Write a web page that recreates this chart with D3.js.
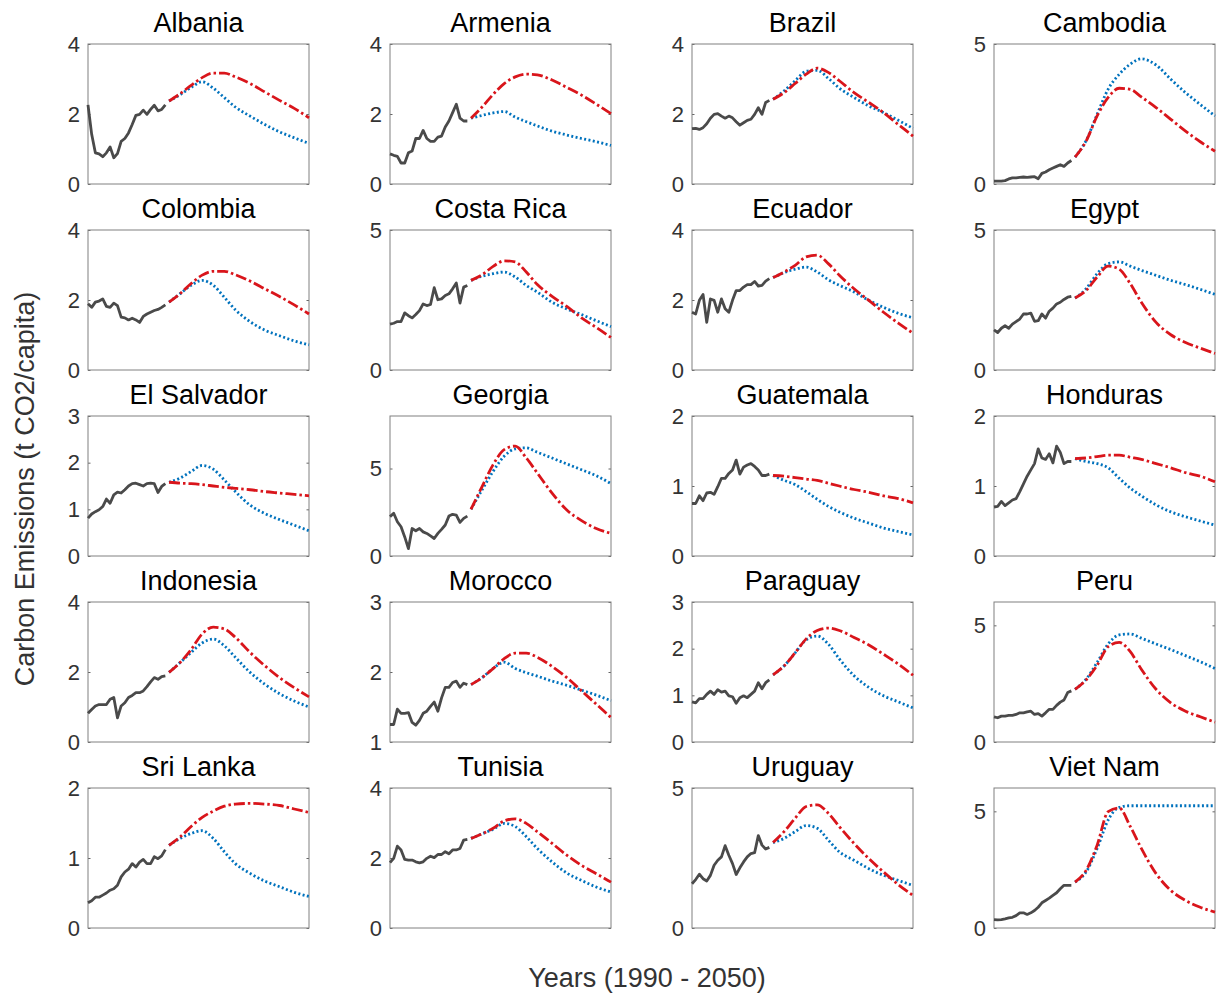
<!DOCTYPE html>
<html>
<head>
<meta charset="utf-8">
<script src="https://cdn.jsdelivr.net/npm/d3@7"></script>
<style>
  body { margin: 0; background: #fff; }
  text { font-family: "Liberation Sans", Arial, Helvetica, sans-serif; }
</style>
</head>
<body>
<div id="chart"></div>
<script>
// countries, one panel each (4 per row)
const countries = ['Albania', 'Armenia', 'Brazil', 'Cambodia', 'Colombia', 'Costa Rica', 'Ecuador', 'Egypt',
  'El Salvador', 'Georgia', 'Guatemala', 'Honduras', 'Indonesia', 'Morocco', 'Paraguay', 'Peru',
  'Sri Lanka', 'Tunisia', 'Uruguay', 'Viet Nam'];

// y axis range and ticks per panel
const yDomains = [[0, 4], [0, 4], [0, 4], [0, 5], [0, 4], [0, 5], [0, 4], [0, 5],
  [0, 3], [0, 8], [0, 2], [0, 2], [0, 4], [1, 3], [0, 3], [0, 6],
  [0, 2], [0, 4], [0, 5], [0, 6]];
const yTicks = [[0, 2, 4], [0, 2, 4], [0, 2, 4], [0, 5], [0, 2, 4], [0, 5], [0, 2, 4], [0, 5],
  [0, 1, 2, 3], [0, 5], [0, 1, 2], [0, 1, 2], [0, 2, 4], [1, 2, 3], [0, 1, 2, 3], [0, 5],
  [0, 1, 2], [0, 2, 4], [0, 5], [0, 5]];

// observed years
const histYears = [1990, 1991, 1992, 1993, 1994, 1995, 1996, 1997, 1998, 1999, 2000,
  2001, 2002, 2003, 2004, 2005, 2006, 2007, 2008, 2009, 2010, 2011];

// observed emissions (t CO2/capita), same order as countries
const historical = [
  [2.26, 1.42, 0.89, 0.86, 0.78, 0.89, 1.06, 0.75, 0.87, 1.22, 1.30, 1.46, 1.70, 1.96, 1.99, 2.11, 1.99, 2.13, 2.25, 2.09, 2.13, 2.26],
  [0.86, 0.82, 0.79, 0.60, 0.60, 0.89, 0.94, 1.30, 1.30, 1.53, 1.30, 1.22, 1.22, 1.34, 1.37, 1.63, 1.80, 2.04, 2.28, 1.88, 1.80, 1.80],
  [1.58, 1.59, 1.56, 1.61, 1.72, 1.88, 1.99, 2.01, 1.94, 1.88, 1.94, 1.89, 1.78, 1.68, 1.75, 1.82, 1.85, 1.99, 2.18, 1.99, 2.33, 2.39],
  [0.10, 0.10, 0.10, 0.12, 0.18, 0.22, 0.22, 0.24, 0.25, 0.24, 0.25, 0.26, 0.19, 0.38, 0.43, 0.51, 0.57, 0.63, 0.69, 0.63, 0.75, 0.84],
  [1.89, 1.79, 1.94, 1.97, 2.03, 1.82, 1.79, 1.91, 1.84, 1.51, 1.49, 1.43, 1.48, 1.43, 1.36, 1.53, 1.60, 1.65, 1.70, 1.73, 1.79, 1.86],
  [1.64, 1.67, 1.73, 1.73, 2.04, 1.94, 1.86, 1.98, 2.12, 2.36, 2.30, 2.34, 2.94, 2.51, 2.54, 2.66, 2.72, 2.90, 3.11, 2.39, 2.96, 3.02],
  [1.65, 1.60, 1.99, 2.16, 1.36, 2.03, 1.99, 1.65, 2.03, 1.75, 1.65, 1.99, 2.27, 2.27, 2.37, 2.44, 2.44, 2.53, 2.40, 2.42, 2.54, 2.61],
  [1.43, 1.34, 1.49, 1.58, 1.49, 1.64, 1.73, 1.82, 2.00, 2.00, 2.03, 1.74, 1.76, 2.00, 1.85, 2.10, 2.21, 2.36, 2.42, 2.52, 2.60, 2.63],
  [0.81, 0.90, 0.95, 0.99, 1.06, 1.22, 1.13, 1.31, 1.37, 1.35, 1.42, 1.50, 1.55, 1.56, 1.53, 1.50, 1.55, 1.56, 1.55, 1.36, 1.49, 1.55],
  [2.25, 2.44, 1.96, 1.67, 1.09, 0.42, 1.57, 1.44, 1.57, 1.38, 1.29, 1.15, 1.00, 1.29, 1.52, 1.77, 2.28, 2.38, 2.34, 1.92, 2.15, 2.28],
  [0.75, 0.75, 0.86, 0.79, 0.90, 0.91, 0.88, 0.99, 1.11, 1.11, 1.18, 1.23, 1.37, 1.17, 1.27, 1.30, 1.32, 1.28, 1.23, 1.15, 1.15, 1.17],
  [0.70, 0.71, 0.78, 0.72, 0.76, 0.80, 0.82, 0.92, 1.03, 1.14, 1.23, 1.32, 1.53, 1.40, 1.38, 1.46, 1.33, 1.57, 1.48, 1.32, 1.35, 1.35],
  [0.82, 0.93, 1.03, 1.07, 1.07, 1.07, 1.22, 1.27, 0.69, 1.03, 1.12, 1.27, 1.33, 1.41, 1.41, 1.46, 1.58, 1.72, 1.84, 1.79, 1.87, 1.89],
  [1.25, 1.25, 1.47, 1.41, 1.41, 1.42, 1.28, 1.24, 1.31, 1.41, 1.44, 1.51, 1.57, 1.44, 1.63, 1.78, 1.78, 1.85, 1.87, 1.78, 1.84, 1.82],
  [0.86, 0.84, 0.93, 0.93, 1.02, 1.09, 1.02, 1.12, 1.07, 1.09, 0.99, 0.97, 0.83, 0.95, 0.99, 0.95, 1.02, 1.09, 1.27, 1.14, 1.27, 1.33],
  [1.08, 1.04, 1.11, 1.11, 1.14, 1.14, 1.18, 1.25, 1.25, 1.29, 1.32, 1.18, 1.22, 1.11, 1.25, 1.40, 1.40, 1.57, 1.71, 1.80, 2.12, 2.19],
  [0.36, 0.39, 0.44, 0.44, 0.47, 0.50, 0.54, 0.56, 0.61, 0.73, 0.80, 0.84, 0.92, 0.87, 0.94, 0.98, 0.92, 0.92, 1.02, 0.99, 1.03, 1.12],
  [1.87, 1.99, 2.34, 2.23, 1.96, 1.94, 1.94, 1.89, 1.86, 1.89, 1.99, 2.05, 2.01, 2.10, 2.10, 2.18, 2.12, 2.23, 2.23, 2.27, 2.51, 2.53],
  [1.58, 1.73, 1.92, 1.76, 1.68, 1.88, 2.24, 2.42, 2.54, 2.94, 2.60, 2.30, 1.91, 2.15, 2.36, 2.54, 2.66, 2.69, 3.30, 2.96, 2.82, 2.88],
  [0.36, 0.35, 0.36, 0.39, 0.43, 0.46, 0.53, 0.65, 0.65, 0.58, 0.65, 0.75, 0.89, 1.08, 1.18, 1.28, 1.40, 1.51, 1.68, 1.83, 1.83, 1.83]
];

// projection years
const projYears = [2012, 2015, 2018, 2021, 2024, 2027, 2030, 2034, 2038, 2042, 2046, 2050];

// projection drawn dotted blue
const projDotted = [
  [2.37, 2.55, 2.76, 2.92, 2.74, 2.47, 2.20, 1.94, 1.70, 1.49, 1.32, 1.16],
  [1.88, 1.96, 2.03, 2.07, 1.91, 1.78, 1.66, 1.51, 1.40, 1.30, 1.21, 1.10],
  [2.42, 2.66, 2.95, 3.22, 3.25, 3.02, 2.74, 2.47, 2.23, 2.04, 1.82, 1.59],
  [0.96, 1.55, 2.49, 3.39, 3.92, 4.28, 4.47, 4.25, 3.74, 3.26, 2.84, 2.43],
  [1.94, 2.18, 2.42, 2.56, 2.42, 2.08, 1.72, 1.38, 1.14, 0.98, 0.83, 0.72],
  [3.20, 3.35, 3.44, 3.50, 3.32, 3.02, 2.78, 2.42, 2.18, 1.98, 1.76, 1.55],
  [2.64, 2.78, 2.88, 2.94, 2.80, 2.58, 2.42, 2.23, 1.99, 1.79, 1.62, 1.49],
  [2.57, 2.90, 3.44, 3.80, 3.86, 3.71, 3.56, 3.38, 3.20, 3.05, 2.88, 2.70],
  [1.58, 1.67, 1.81, 1.94, 1.86, 1.63, 1.38, 1.09, 0.91, 0.78, 0.66, 0.54],
  [2.67, 3.78, 4.84, 5.70, 6.12, 6.18, 5.93, 5.60, 5.26, 4.93, 4.59, 4.13],
  [1.15, 1.08, 1.02, 0.92, 0.81, 0.71, 0.63, 0.54, 0.47, 0.40, 0.35, 0.30],
  [1.39, 1.35, 1.32, 1.26, 1.11, 0.97, 0.86, 0.73, 0.63, 0.56, 0.50, 0.44],
  [1.99, 2.27, 2.56, 2.83, 2.94, 2.75, 2.42, 1.99, 1.65, 1.38, 1.17, 1.00],
  [1.82, 1.92, 2.05, 2.14, 2.05, 1.99, 1.94, 1.87, 1.81, 1.74, 1.67, 1.59],
  [1.44, 1.63, 1.91, 2.19, 2.27, 2.10, 1.78, 1.42, 1.17, 0.99, 0.86, 0.73],
  [2.26, 2.69, 3.41, 4.20, 4.59, 4.63, 4.45, 4.20, 3.96, 3.70, 3.44, 3.15],
  [1.18, 1.28, 1.35, 1.39, 1.28, 1.09, 0.92, 0.78, 0.67, 0.59, 0.51, 0.45],
  [2.56, 2.69, 2.82, 2.99, 2.90, 2.61, 2.27, 1.89, 1.57, 1.36, 1.17, 1.03],
  [3.05, 3.20, 3.44, 3.66, 3.56, 3.14, 2.72, 2.42, 2.12, 1.88, 1.70, 1.52],
  [1.97, 2.40, 3.41, 4.63, 5.17, 5.24, 5.24, 5.24, 5.24, 5.24, 5.24, 5.24]
];

// projection drawn dash-dot red
const projDashDot = [
  [2.37, 2.58, 2.82, 3.04, 3.17, 3.17, 3.06, 2.87, 2.63, 2.39, 2.16, 1.89],
  [1.88, 2.20, 2.56, 2.87, 3.06, 3.14, 3.12, 2.97, 2.76, 2.54, 2.28, 2.01],
  [2.42, 2.61, 2.87, 3.14, 3.31, 3.19, 2.95, 2.61, 2.33, 2.04, 1.70, 1.37],
  [0.96, 1.53, 2.43, 3.09, 3.42, 3.38, 3.11, 2.73, 2.31, 1.89, 1.51, 1.17],
  [1.94, 2.18, 2.47, 2.71, 2.82, 2.82, 2.72, 2.54, 2.32, 2.10, 1.86, 1.60],
  [3.20, 3.40, 3.70, 3.90, 3.86, 3.50, 3.05, 2.63, 2.27, 1.86, 1.52, 1.16],
  [2.64, 2.80, 2.99, 3.23, 3.28, 3.04, 2.71, 2.32, 1.99, 1.65, 1.34, 1.05],
  [2.57, 2.84, 3.32, 3.71, 3.60, 3.08, 2.42, 1.70, 1.26, 0.98, 0.78, 0.59],
  [1.58, 1.56, 1.55, 1.53, 1.50, 1.47, 1.45, 1.42, 1.38, 1.35, 1.32, 1.29],
  [2.67, 3.97, 5.22, 6.08, 6.28, 5.60, 4.74, 3.59, 2.63, 2.02, 1.57, 1.29],
  [1.15, 1.14, 1.12, 1.10, 1.08, 1.04, 1.00, 0.95, 0.91, 0.86, 0.82, 0.76],
  [1.39, 1.40, 1.42, 1.44, 1.44, 1.41, 1.38, 1.32, 1.26, 1.19, 1.14, 1.06],
  [1.99, 2.27, 2.64, 3.09, 3.28, 3.23, 2.99, 2.56, 2.18, 1.84, 1.55, 1.29],
  [1.82, 1.92, 2.05, 2.19, 2.27, 2.27, 2.21, 2.08, 1.92, 1.73, 1.54, 1.35],
  [1.44, 1.63, 1.91, 2.21, 2.39, 2.44, 2.39, 2.24, 2.08, 1.88, 1.67, 1.43],
  [2.26, 2.66, 3.29, 4.09, 4.27, 3.87, 3.12, 2.26, 1.68, 1.32, 1.08, 0.85],
  [1.18, 1.30, 1.45, 1.58, 1.67, 1.74, 1.77, 1.78, 1.77, 1.75, 1.70, 1.65],
  [2.56, 2.69, 2.85, 3.06, 3.12, 2.99, 2.75, 2.42, 2.08, 1.79, 1.55, 1.31],
  [3.05, 3.44, 3.92, 4.34, 4.40, 4.10, 3.62, 3.02, 2.48, 2.00, 1.55, 1.16],
  [1.97, 2.47, 3.55, 4.99, 5.14, 4.35, 3.41, 2.33, 1.61, 1.18, 0.89, 0.68]
];

//panel layout
const width = 1216;
const height = 996;
const left0 = 88, top0 = 44;
const colStep = 302, rowStep = 186;
const panelW = 221, panelH = 140;
const font = '"Liberation Sans", Arial, Helvetica, sans-serif';

const svg = d3.select('#chart')
    .append('svg')
    .attr('width', width)
    .attr('height', height);

svg.append('rect').attr('width', width).attr('height', height).attr('fill', '#fff');

const x = d3.scaleLinear().domain([1990, 2050]).range([0, panelW]);

countries.forEach((name, i) => {
    const col = i % 4;
    const row = Math.floor(i / 4);
    const g = svg.append('g')
        .attr('transform', `translate(${left0 + col * colStep},${top0 + row * rowStep})`);

    const y = d3.scaleLinear().domain(yDomains[i]).range([panelH, 0]);

    //left ticks with labels
    const axL = g.append('g')
        .call(d3.axisLeft(y).tickValues(yTicks[i]).tickSize(-2.5).tickPadding(8).tickFormat(d3.format('d')));
    axL.select('.domain').remove();
    axL.selectAll('line').attr('stroke', '#666');
    axL.selectAll('text')
        .attr('font-size', 22)
        .attr('font-family', font)
        .attr('fill', '#333');

    //mirrored ticks on the right
    const axR = g.append('g')
        .attr('transform', `translate(${panelW},0)`)
        .call(d3.axisRight(y).tickValues(yTicks[i]).tickSize(-2.5).tickFormat(''));
    axR.select('.domain').remove();
    axR.selectAll('line').attr('stroke', '#666');

    //box
    g.append('rect')
        .attr('width', panelW)
        .attr('height', panelH)
        .attr('fill', 'none')
        .attr('stroke', '#808080')
        .attr('stroke-width', 1);

    const line = d3.line()
        .x(d => x(d[0]))
        .y(d => y(d[1]))
        .curve(d3.curveMonotoneX);

    //observed series
    g.append('path')
        .datum(histYears.map((yr, j) => [yr, historical[i][j]]))
        .attr('d', d3.line().x(d => x(d[0])).y(d => y(d[1])))
        .attr('fill', 'none')
        .attr('stroke', '#4a4a4a')
        .attr('stroke-width', 2.8)
        .attr('stroke-linejoin', 'round');

    //blue dotted projection
    g.append('path')
        .datum(projYears.map((yr, j) => [yr, projDotted[i][j]]))
        .attr('d', line)
        .attr('fill', 'none')
        .attr('stroke', '#0072bd')
        .attr('stroke-width', 2.8)
        .attr('stroke-dasharray', '2,2.4');

    //red dash-dot projection
    g.append('path')
        .datum(projYears.map((yr, j) => [yr, projDashDot[i][j]]))
        .attr('d', line)
        .attr('fill', 'none')
        .attr('stroke', '#d9151b')
        .attr('stroke-width', 2.8)
        .attr('stroke-dasharray', '11,3,2.5,3');

    //title
    g.append('text')
        .text(name)
        .attr('x', panelW / 2)
        .attr('y', -12)
        .attr('text-anchor', 'middle')
        .attr('font-size', 27)
        .attr('font-family', font)
        .attr('fill', '#000');
});

//shared axis labels
svg.append('text')
    .text('Carbon Emissions (t CO2/capita)')
    .attr('transform', 'translate(34,489) rotate(-90)')
    .attr('text-anchor', 'middle')
    .attr('font-size', 27)
    .attr('font-family', font)
    .attr('fill', '#333');

svg.append('text')
    .text('Years (1990 - 2050)')
    .attr('x', 647)
    .attr('y', 987)
    .attr('text-anchor', 'middle')
    .attr('font-size', 27)
    .attr('font-family', font)
    .attr('fill', '#333');
</script>
</body>
</html>
